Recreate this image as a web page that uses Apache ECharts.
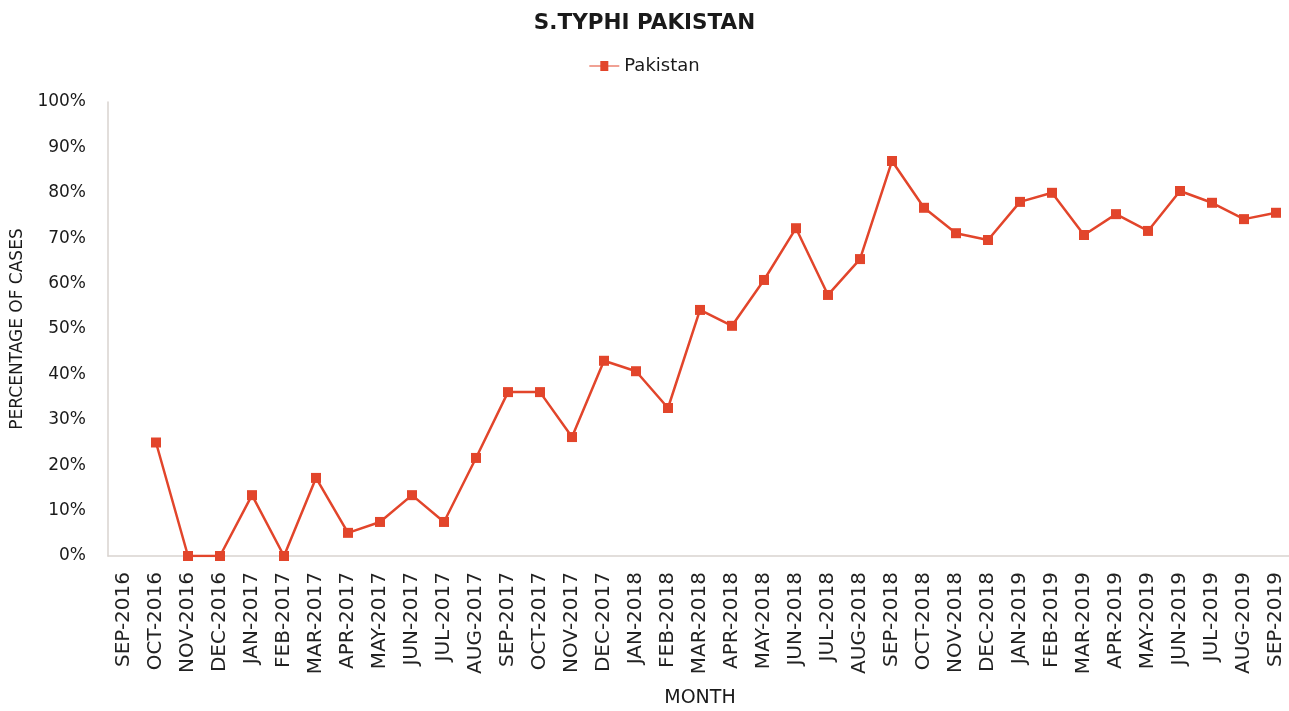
<!DOCTYPE html>
<html><head><meta charset="utf-8">
<script src="https://cdn.jsdelivr.net/npm/echarts@6/dist/echarts.min.js"></script>
<style>html,body{margin:0;padding:0;background:#fff}#c{width:1289px;height:711px}</style>
</head><body><div id="c"></div>
<script>
const months = ['SEP-2016','OCT-2016','NOV-2016','DEC-2016','JAN-2017','FEB-2017','MAR-2017','APR-2017','MAY-2017','JUN-2017','JUL-2017','AUG-2017','SEP-2017','OCT-2017','NOV-2017','DEC-2017','JAN-2018','FEB-2018','MAR-2018','APR-2018','MAY-2018','JUN-2018','JUL-2018','AUG-2018','SEP-2018','OCT-2018','NOV-2018','DEC-2018','JAN-2019','FEB-2019','MAR-2019','APR-2019','MAY-2019','JUN-2019','JUL-2019','AUG-2019','SEP-2019'];
const pakistan = [null,25,0,0,13.4,0,17.2,5.1,7.5,13.4,7.5,21.6,36.1,36.1,26.2,43,40.7,32.6,54.2,50.7,60.8,72.2,57.5,65.4,87,76.7,71.1,69.6,78,80,70.7,75.3,71.6,80.4,77.8,74.2,75.6];
const yTicks = [0,10,20,30,40,50,60,70,80,90,100];
const FONT = '"DejaVu Sans", sans-serif';
const chart = echarts.init(document.getElementById('c'));
chart.setOption({
  animation: false,
  title: {text: 'S.TYPHI PAKISTAN', left: 'center', top: 7,
    textStyle: {fontFamily: FONT, fontSize: 21.5, fontWeight: 'bold', color: '#1a1a1a'}},
  legend: {top: 52, left: 'center', itemWidth: 30, itemHeight: 10,
    textStyle: {fontFamily: FONT, fontSize: 18, color: '#1a1a1a'},
    data: [{name: 'Pakistan', icon: 'path://M0,4.5L11,4.5L11,0L19,0L19,4.5L30,4.5L30,5.5L19,5.5L19,10L11,10L11,5.5L0,5.5Z'}]},
  grid: {left: 108, top: 102, width: 1184, height: 454, containLabel: false, outerBoundsMode: 'none'},
  xAxis: {type: 'category', data: months, boundaryGap: true,
    name: 'MONTH', nameLocation: 'middle', nameGap: 133,
    nameTextStyle: {fontFamily: FONT, fontSize: 19, color: '#1a1a1a'},
    axisLine: {lineStyle: {color: '#D9D3CF', width: 1.5}},
    axisTick: {show: false},
    axisLabel: {rotate: 90, interval: 0, margin: 16, fontFamily: FONT, fontSize: 20, color: '#222'}},
  yAxis: {type: 'value', min: 0, max: 100, interval: 10,
    name: 'PERCENTAGE OF CASES', nameLocation: 'middle', nameGap: 78, nameRotate: 90,
    nameTextStyle: {fontFamily: FONT, fontSize: 17, color: '#1a1a1a'},
    axisLine: {show: true, lineStyle: {color: '#D9D3CF', width: 1.5}},
    axisTick: {show: false}, splitLine: {show: false},
    axisLabel: {margin: 22, fontFamily: FONT, fontSize: 17, color: '#1a1a1a',
      formatter: v => yTicks.includes(v) ? v + '%' : ''}},
  series: [{name: 'Pakistan', type: 'line', data: pakistan, connectNulls: false,
    symbol: 'rect', symbolSize: 10, color: '#E2452B',
    lineStyle: {width: 2.5, color: '#E2452B'}, itemStyle: {color: '#E2452B'}}]
});
</script></body></html>
